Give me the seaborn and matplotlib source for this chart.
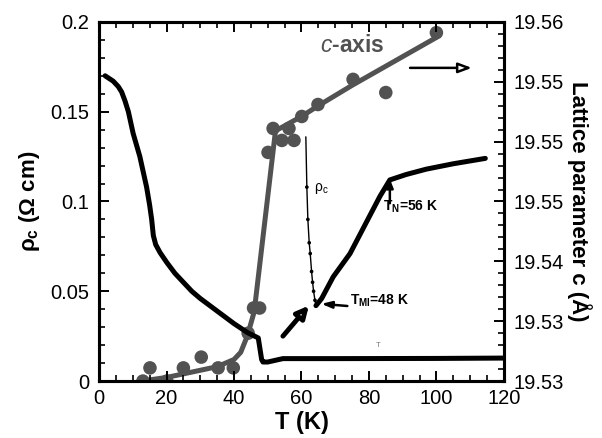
import matplotlib
matplotlib.use('Agg')
import matplotlib.pyplot as plt
from matplotlib.ticker import AutoMinorLocator, FixedLocator
import seaborn as sns

# rho_c curve (left axis)
rho_T = [1.8, 4.2, 5.7, 6.7, 7.7, 8.7, 10.1, 12.1, 14.1, 15.0, 15.6, 16.1, 16.8, 18.1, 20.1,
         22.5, 25, 27.5, 30, 35, 40, 44, 47.2, 48.2, 48.6, 50, 54.5, 70, 100, 120]
rho_v = [0.170, 0.167, 0.164, 0.161, 0.156, 0.150, 0.138, 0.125, 0.108, 0.098, 0.090, 0.081,
         0.076, 0.0715, 0.066, 0.060, 0.055, 0.050, 0.046, 0.039, 0.032, 0.027, 0.024,
         0.012, 0.0106, 0.0106, 0.0125, 0.0125, 0.0126, 0.0128]

# thin dotted rho_c segment
thin_T = [61.3, 61.6, 61.9, 62.3, 62.6, 63.0, 63.3, 63.6, 64.0, 64.3]
thin_v = [0.136, 0.108, 0.090, 0.077, 0.071, 0.061, 0.055, 0.050, 0.045, 0.042]

# thick rising branch above T_MI
rise_T = [64.3, 66, 69.4, 74.4, 79.4, 83.3, 86.2, 91, 97, 105, 114.5]
rise_v = [0.042, 0.046, 0.058, 0.071, 0.089, 0.103, 0.112, 0.115, 0.118, 0.121, 0.124]

# lattice parameter c (right axis): points and guide line
lat_T = [13, 15.1, 20.1, 25, 30.3, 35.3, 39.8, 44.2, 45.8, 47.6, 50.1, 51.6, 54.2, 56.3,
         57.8, 60.1, 64.9, 75.3, 85, 100]
lat_c = [19.5300, 19.5311, 19.5300, 19.5311, 19.5320, 19.5311, 19.5311, 19.5340, 19.5361,
         19.5361, 19.5491, 19.5511, 19.5501, 19.5511, 19.5501, 19.5521, 19.5531, 19.5552,
         19.5541, 19.5591]
fit_T = [15, 20, 25, 30, 35, 40, 42, 44, 46, 52.3, 60, 65, 75, 100]
fit_c = [19.5301, 19.5303, 19.5306, 19.5309, 19.5312, 19.5318, 19.5324, 19.5338, 19.5358,
         19.5509, 19.5521, 19.5530, 19.5547, 19.5587]

x_ticks = [0, 20, 40, 60, 80, 100, 120]
left_ticks = [0, 0.05, 0.1, 0.15, 0.2]
left_labels = ['0', '0.05', '0.1', '0.15', '0.2']
right_ticks = [19.530, 19.535, 19.540, 19.545, 19.550, 19.555, 19.560]
right_labels = ['19.53', '19.53', '19.54', '19.55', '19.55', '19.55', '19.56']

sns.set_style('ticks')
plt.rcParams['font.family'] = ['Liberation Sans', 'DejaVu Sans']
plt.rcParams['mathtext.fontset'] = 'custom'
plt.rcParams['mathtext.rm'] = 'Liberation Sans'
plt.rcParams['mathtext.bf'] = 'Liberation Sans:bold'
plt.rcParams['mathtext.it'] = 'Liberation Sans:italic'
for k in ['text.color', 'axes.labelcolor', 'xtick.color', 'ytick.color', 'axes.edgecolor']:
    plt.rcParams[k] = 'black'

gray = '#525252'
fig = plt.figure(figsize=(6.02, 4.38), dpi=100)
ax = fig.add_axes([0.1645, 0.130, 0.6725, 0.820])
ax2 = ax.twinx()

sns.lineplot(x=fit_T, y=fit_c, ax=ax2, color=gray, lw=3.6, sort=False, estimator=None, zorder=2)
sns.scatterplot(x=lat_T, y=lat_c, ax=ax2, color=gray, s=95, edgecolor='none', zorder=3)

ax.set_zorder(ax2.get_zorder() + 1)
ax.patch.set_visible(False)
sns.lineplot(x=rho_T, y=rho_v, ax=ax, color='black', lw=3.6, sort=False, estimator=None)
sns.lineplot(x=rise_T, y=rise_v, ax=ax, color='black', lw=3.6, sort=False, estimator=None)
sns.lineplot(x=thin_T, y=thin_v, ax=ax, color='black', lw=1.0, sort=False, estimator=None)
sns.scatterplot(x=thin_T[1:], y=thin_v[1:], ax=ax, color='black', s=7, edgecolor='none')

ax.set_xlim(0, 120)
ax.set_ylim(0, 0.2)
ax2.set_ylim(19.53, 19.56)
ax.set_xticks(x_ticks)
ax.set_yticks(left_ticks)
ax.set_yticklabels(left_labels)
ax2.yaxis.set_major_locator(FixedLocator(right_ticks))
ax2.set_yticklabels(right_labels)
ax.xaxis.set_minor_locator(AutoMinorLocator(4))
ax.yaxis.set_minor_locator(AutoMinorLocator(5))
ax2.yaxis.set_minor_locator(AutoMinorLocator(5))

for a in (ax, ax2):
    a.tick_params(which='major', direction='in', length=7, width=1.4, labelsize=14.5, pad=7)
    a.tick_params(which='minor', direction='in', length=4.5, width=1.2)
    for s in a.spines.values():
        s.set_linewidth(2.2)
        s.set_visible(True)
ax.tick_params(which='both', top=True, right=False)
ax.tick_params(axis='x', pad=6)

ax.set_xlabel('T (K)', fontsize=17, fontweight='bold', labelpad=2)
ax.set_ylabel('ρ$_\\mathbf{c}$ (Ω cm)', fontsize=16, fontweight='bold', labelpad=6)
ax2.set_ylabel('Lattice parameter c (Å)', fontsize=16, fontweight='bold', rotation=-90, labelpad=20)

# annotations
ax.text(75, 0.187, '$\\mathit{c}$-axis', color=gray, fontsize=16.5, fontweight='bold',
        ha='center', va='center')
ax.annotate('', xy=(110.5, 0.1744), xytext=(92.2, 0.1744),
            arrowprops=dict(arrowstyle='-|>,head_length=0.8,head_width=0.3', lw=1.8,
                            color='black', fc='white', shrinkA=0, shrinkB=0))
ax.text(63.8, 0.107, 'ρ$_\\mathrm{c}$', fontsize=10, ha='left', va='center')
ax.annotate('', xy=(86.2, 0.1125), xytext=(86.2, 0.099),
            arrowprops=dict(arrowstyle='-|>,head_length=0.5,head_width=0.2', lw=1.8,
                            color='black', shrinkA=0, shrinkB=0))
ax.text(84.3, 0.097, 'T$_\\mathbf{N}$=56 K', fontsize=10, fontweight='bold', ha='left', va='center')
ax.annotate('', xy=(65.9, 0.0430), xytext=(73.6, 0.0418),
            arrowprops=dict(arrowstyle='-|>,head_length=0.6,head_width=0.2', lw=1.8,
                            color='black', shrinkA=0, shrinkB=0))
ax.text(74.5, 0.0445, 'T$_\\mathbf{MI}$=48 K', fontsize=10, fontweight='bold', ha='left', va='center')
ax.annotate('', xy=(62.2, 0.0420), xytext=(54.5, 0.0250),
            arrowprops=dict(arrowstyle='-|>,head_length=0.7,head_width=0.35', lw=3.5,
                            color='black', fc='white', shrinkA=0, shrinkB=0))
ax.text(82.7, 0.020, 'T', fontsize=5.5, color='#777777', ha='center', va='center')

fig.savefig('out.png', dpi=100)
